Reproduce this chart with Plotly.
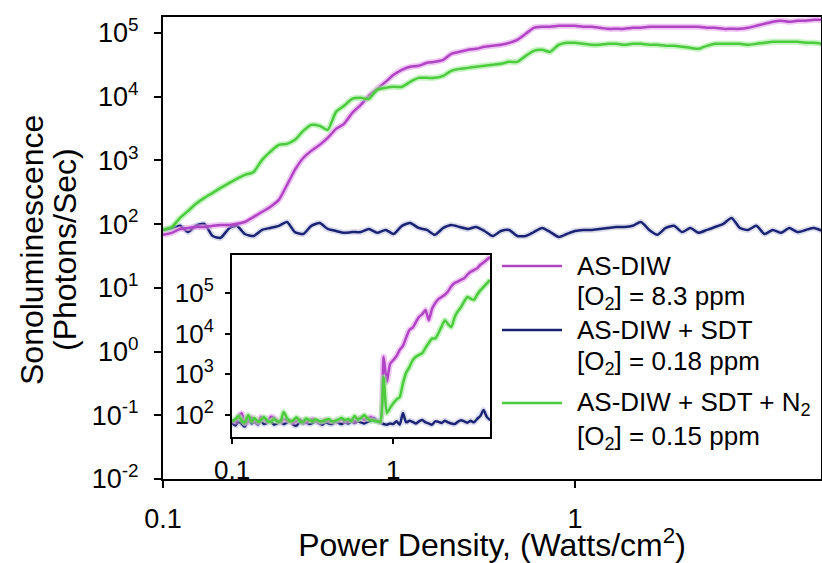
import plotly.graph_objects as go

# ---------------- data ----------------
power = [0.100, 0.105, 0.110, 0.115, 0.120, 0.126, 0.132, 0.138, 0.145, 0.151,
         0.158, 0.166, 0.174, 0.182, 0.191, 0.200, 0.209, 0.219, 0.229, 0.240,
         0.251, 0.263, 0.275, 0.288, 0.302, 0.316, 0.331, 0.347, 0.363, 0.380,
         0.398, 0.417, 0.437, 0.457, 0.479, 0.501, 0.525, 0.550, 0.575, 0.603,
         0.631, 0.661, 0.692, 0.724, 0.759, 0.794, 0.832, 0.871, 0.912, 0.955,
         1.000, 1.047, 1.096, 1.148, 1.202, 1.259, 1.318, 1.380, 1.445, 1.514,
         1.585, 1.660, 1.738, 1.820, 1.905, 1.995, 2.089, 2.188, 2.291, 2.399,
         2.512, 2.630, 2.754, 2.884, 3.020, 3.162, 3.311, 3.467, 3.631, 3.802,
         3.981]

main_asdiw = [68, 73, 84, 87, 90, 90, 94, 97, 97, 101,
              108, 130, 156, 186, 240, 412, 710, 1090, 1410, 1750,
              2250, 3120, 3740, 5570, 7430, 10300, 13250, 17070, 21980, 26360,
              29380, 30480, 33960, 35180, 37840, 46990, 50500, 54300, 56300, 60500,
              62700, 65000, 69900, 77900, 96800, 120300, 124700, 124700, 129400, 129400,
              129400, 124700, 124700, 120300, 115900, 115900, 115900, 120300, 120300, 124700,
              124700, 124700, 124700, 124700, 124700, 124700, 120300, 120300, 115900, 115900,
              115900, 120300, 129400, 139000, 149400, 154900, 149400, 154900, 154900, 160600,
              160600]

main_sdt = [81, 87, 94, 75, 94, 101, 65, 61, 87, 94,
            70, 65, 81, 87, 94, 108, 75, 70, 94, 104,
            84, 78, 73, 75, 75, 84, 73, 81, 70, 94,
            104, 87, 81, 68, 87, 97, 90, 84, 90, 78,
            65, 78, 81, 65, 65, 75, 87, 75, 63, 70,
            78, 81, 81, 84, 87, 90, 90, 94, 108, 81,
            68, 87, 94, 75, 87, 73, 81, 90, 101, 125,
            87, 81, 94, 70, 81, 73, 87, 75, 81, 87,
            78]

main_sdt_n2 = [81, 90, 125, 161, 207, 258, 309, 370, 444, 513,
               592, 660, 1020, 1360, 1750, 1815, 2100, 2900, 3610, 3480,
               3010, 5770, 7180, 9230, 9570, 9230, 12790, 13740, 14260, 14260,
               17070, 19720, 19720, 19720, 21230, 25420, 27300, 28300, 29380, 30480,
               31600, 32750, 35180, 35180, 43660, 52360, 54300, 50500, 65000, 69900,
               69900, 67400, 65000, 65000, 67400, 67400, 65000, 67400, 67400, 65000,
               65000, 62700, 62700, 60500, 58300, 56300, 62700, 67400, 67400, 67400,
               67400, 65000, 67400, 69900, 72500, 72500, 72500, 72500, 69900, 69900,
               67400]

inset_asdiw = [75, 68, 95, 110, 62, 70, 88, 72, 65, 90,
               78, 70, 90, 85, 72, 68, 80, 74, 70, 66,
               72, 78, 70, 68, 74, 80, 72, 68, 70, 76,
               72, 70, 68, 74, 78, 70, 72, 75, 70, 80,
               85, 78, 82, 90, 76, 72, 70, 2700, 650, 1800,
               2240, 2800, 3980, 5000, 8000, 12300, 14000, 19000, 25700, 30000,
               38000, 21400, 40000, 56000, 70000, 79400, 90000, 110000, 145000, 174000,
               190000, 209000, 230000, 280000, 330000, 363000, 400000, 490000, 560000, 650000,
               760000]

inset_sdt = [65, 55, 70, 60, 52, 75, 62, 68, 58, 72,
             60, 65, 70, 58, 62, 68, 60, 65, 72, 58,
             55, 68, 62, 66, 60, 64, 70, 62, 58, 66,
             62, 60, 68, 64, 60, 66, 62, 68, 64, 70,
             66, 62, 68, 72, 85, 70, 65, 60, 58, 62,
             60, 70, 58, 112, 66, 72, 68, 62, 70, 75,
             66, 62, 58, 70, 68, 64, 72, 66, 62, 60,
             68, 74, 70, 65, 72, 66, 80, 95, 132, 90,
             75]

inset_sdt_n2 = [70, 80, 95, 72, 65, 100, 70, 85, 68, 75,
                90, 72, 68, 80, 70, 72, 118, 85, 70, 75,
                88, 72, 68, 82, 75, 70, 78, 72, 70, 75,
                80, 70, 72, 78, 85, 75, 80, 72, 95, 78,
                85, 100, 82, 75, 72, 70, 68, 850, 112, 150,
                195, 240, 275, 600, 1100, 1500, 2200, 2700, 3000, 3300,
                4500, 5900, 7500, 7600, 10200, 15000, 21400, 17000, 14500, 25000,
                35000, 44700, 62000, 79400, 72000, 67600, 90000, 115000, 141000, 170000,
                209000]

x_ticks = [0.1, 1]
x_ticktext = ["0.1", "1"]
main_yticks = [1e-2, 1e-1, 1e0, 1e1, 1e2, 1e3, 1e4, 1e5]
main_yticktext = ["10<sup>-2</sup>", "10<sup>-1</sup>", "10<sup>0</sup>", "10<sup>1</sup>",
                  "10<sup>2</sup>", "10<sup>3</sup>", "10<sup>4</sup>", "10<sup>5</sup>"]
inset_yticks = [1e2, 1e3, 1e4, 1e5]
inset_yticktext = ["10<sup>2</sup>", "10<sup>3</sup>", "10<sup>4</sup>", "10<sup>5</sup>"]

series_names = ["AS-DIW", "AS-DIW + SDT", "AS-DIW + SDT + N<sub>2</sub>"]
series_o2 = ["[O<sub>2</sub>] = 8.3 ppm", "[O<sub>2</sub>] = 0.18 ppm", "[O<sub>2</sub>] = 0.15 ppm"]
colors = ["#B044C4", "#1B2374", "#4CCB3E"]
glows = ["rgba(225,150,235,0.55)", "rgba(90,100,170,0.22)", "rgba(150,235,140,0.55)"]

# ---------------- figure ----------------
fig = go.Figure()

main_sets = [main_asdiw, main_sdt, main_sdt_n2]
inset_sets = [inset_asdiw, inset_sdt, inset_sdt_n2]
order = [1, 0, 2]

for xa, ya, sets in [("x", "y", main_sets), ("x2", "y2", inset_sets)]:
    for k in order:
        fig.add_trace(go.Scatter(x=power, y=sets[k], mode="lines", xaxis=xa, yaxis=ya,
                                 line=dict(color=glows[k], width=6, shape="spline", smoothing=0.6),
                                 showlegend=False, hoverinfo="skip"))
        fig.add_trace(go.Scatter(x=power, y=sets[k], mode="lines", xaxis=xa, yaxis=ya,
                                 line=dict(color=colors[k], width=2.5, shape="spline", smoothing=0.6),
                                 name=series_names[k], showlegend=False))

axis_common = dict(type="log", showline=True, linecolor="black", linewidth=2, mirror=True,
                   ticks="outside", tickcolor="black", tickwidth=2, showgrid=False,
                   zeroline=False, automargin=False)

fig.update_layout(
    width=822, height=563,
    margin=dict(l=163, r=1, t=17, b=84),
    plot_bgcolor="white", paper_bgcolor="white",
    font=dict(family="Liberation Sans, Arial, sans-serif", color="black"),
    showlegend=False,
    xaxis=dict(axis_common, domain=[0, 1], anchor="y", range=[-1, 0.597],
               tickvals=x_ticks, ticktext=x_ticktext, ticklen=7,
               tickfont=dict(size=27), ticklabelstandoff=8,
               title=dict(text="Power Density, (Watts/cm<sup>2</sup>)", font=dict(size=32), standoff=10)),
    yaxis=dict(axis_common, domain=[0, 1], anchor="x", range=[-2, 5.25],
               tickvals=main_yticks, ticktext=main_yticktext, ticklen=7,
               tickfont=dict(size=27), ticklabelstandoff=10),
    xaxis2=dict(axis_common, domain=[0.1049, 0.497], anchor="y2", range=[-1, 0.6],
                tickvals=x_ticks, ticktext=x_ticktext, ticklen=5,
                tickfont=dict(size=26), ticklabelstandoff=4),
    yaxis2=dict(axis_common, domain=[0.0909, 0.4848], anchor="x2", range=[1.46, 5.93],
                tickvals=inset_yticks, ticktext=inset_yticktext, ticklen=5,
                tickfont=dict(size=26), ticklabelstandoff=6),
)

# y axis title (two tightly spaced lines)
fig.add_annotation(text="Sonoluminescence", xref="paper", yref="paper", x=-0.1991, y=0.4957,
                   textangle=-90, showarrow=False, font=dict(size=32),
                   xanchor="center", yanchor="middle")
fig.add_annotation(text="(Photons/Sec)", xref="paper", yref="paper", x=-0.1489, y=0.4957,
                   textangle=-90, showarrow=False, font=dict(size=32),
                   xanchor="center", yanchor="middle")

# manual legend
line_y = [0.461, 0.3225, 0.1645]
o2_y = [0.392, 0.2532, 0.0909]
for k in range(3):
    fig.add_shape(type="line", xref="paper", yref="paper", x0=0.5152, x1=0.6064,
                  y0=line_y[k], y1=line_y[k], line=dict(color=colors[k], width=2.5))
    fig.add_annotation(text=series_names[k], xref="paper", yref="paper", x=0.6261, y=line_y[k],
                       xanchor="left", yanchor="middle", showarrow=False, font=dict(size=26))
    fig.add_annotation(text=series_o2[k], xref="paper", yref="paper", x=0.6261, y=o2_y[k],
                       xanchor="left", yanchor="middle", showarrow=False, font=dict(size=26))

fig.write_html("out.html")
